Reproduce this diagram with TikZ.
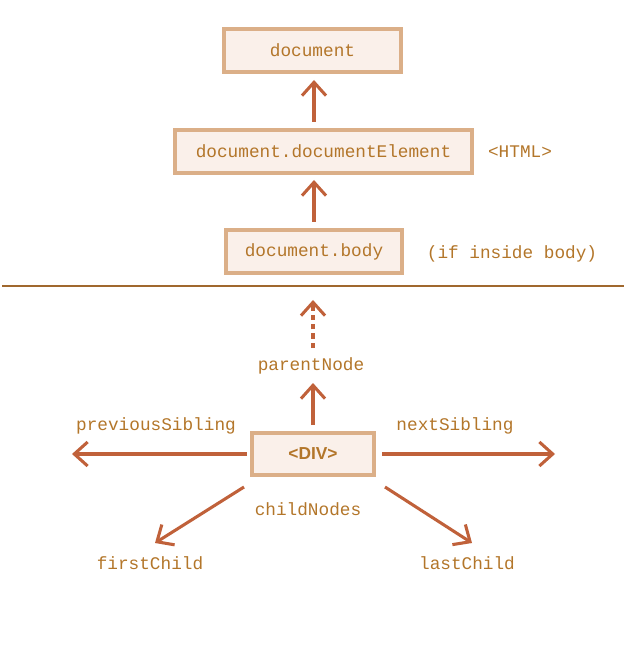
\documentclass[tikz,border=0pt]{standalone}
\usepackage{fontspec}
\setmonofont{Liberation Mono}
\newfontfamily\boxsans{Liberation Sans}
\usetikzlibrary{arrows.meta}
\definecolor{txt}{HTML}{B3762A}
\definecolor{arr}{HTML}{C0613A}
\definecolor{boxline}{HTML}{DBAF88}
\definecolor{boxfill}{HTML}{FAF0EA}
\definecolor{rule}{HTML}{A0682E}
\begin{document}
\begin{tikzpicture}[x=0.75pt,y=-0.75pt,
  lbl/.style={text=txt,font=\ttfamily\fontsize{13.3}{15}\selectfont,inner sep=0pt},
  domnode/.style={draw=boxline,fill=boxfill,line width=2.4pt,inner sep=0pt,
    text=txt,font=\ttfamily\fontsize{13.3}{15}\selectfont},
  link/.style={draw=arr,line width=2.3pt,-{Straight Barb[length=10pt,width=18pt,line width=2.3pt]}}]
\useasboundingbox (0,0) rectangle (638,655);

% ancestors above the line
\node[domnode,minimum width=177*0.75pt,minimum height=43*0.75pt] (doc) at (312.5,50.5) {document};
\node[domnode,minimum width=297*0.75pt,minimum height=43*0.75pt] (html) at (323.5,151.5) {document.documentElement};
\node[lbl] (htmltag) at (520,152) {<HTML>};
\node[domnode,minimum width=176*0.75pt,minimum height=43*0.75pt] (body) at (314,251.5) {document.body};
\node[lbl] (bodynote) at (512,254) {(if inside body)};

\coordinate (b1) at (314,222);
\coordinate (b2) at (314,180);
\coordinate (h1) at (314,122);
\coordinate (h2) at (314,80);
\draw[link] (b1) -- (b2);
\draw[link] (h1) -- (h2);

% separator
\coordinate (sepL) at (2,286);
\coordinate (sepR) at (624,286);
\draw[rule,line width=1.8pt] (sepL) -- (sepR);

% the element and its relatives
\node[domnode,minimum width=122*0.75pt,minimum height=42*0.75pt,
  font=\boxsans\bfseries\fontsize{13}{15}\selectfont] (div) at (313,454) {<DIV>};

\node[lbl] (parent) at (311,366) {parentNode};
\coordinate (p1) at (313,348);
\coordinate (p2) at (313,300);
\draw[link,dashed,dash pattern=on 4pt off 3pt] (p1) -- (p2);
\coordinate (d1) at (313,425);
\coordinate (d2) at (313,383);
\draw[link] (d1) -- (d2);

\node[lbl] (prev) at (156,426) {previousSibling};
\node[lbl] (next) at (455,426) {nextSibling};
\coordinate (l1) at (247,454);
\coordinate (l2) at (72,454);
\coordinate (r1) at (382,454);
\coordinate (r2) at (555,454);
\draw[link] (l1) -- (l2);
\draw[link] (r1) -- (r2);

\node[lbl] (children) at (308,509) {childNodes};
\node[lbl] (first) at (150,563) {firstChild};
\node[lbl] (last) at (467,563) {lastChild};
\coordinate (c1) at (244,487);
\coordinate (c2) at (155,543);
\coordinate (c3) at (385,487);
\coordinate (c4) at (472,543);
\draw[link] (c1) -- (c2);
\draw[link] (c3) -- (c4);
\end{tikzpicture}
\end{document}
